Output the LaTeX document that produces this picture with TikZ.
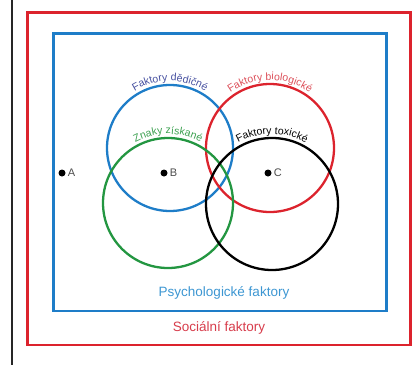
\documentclass[tikz,border=0pt]{standalone}
\usepackage{fontspec}
\setmainfont{Liberation Sans}
\usetikzlibrary{decorations.text}
\definecolor{cblue}{RGB}{30,125,200}
\definecolor{cred}{RGB}{220,35,45}
\definecolor{cgreen}{RGB}{35,150,65}
\definecolor{tblue}{RGB}{60,150,210}
\definecolor{tred}{RGB}{215,60,75}
\definecolor{lblue}{RGB}{70,80,160}
\definecolor{lred}{RGB}{220,80,90}
\definecolor{lgreen}{RGB}{60,160,80}
\tikzset{
  venn/.style={circle, draw, line width=2.3pt, inner sep=0pt, outer sep=0pt},
  frame/.style={line width=2.6pt},
  dotnode/.style={circle, fill=black, inner sep=0pt, minimum size=7pt},
  dotlabel/.style={anchor=west, text=black!70, font=\fontsize{11}{13}\selectfont, inner sep=2pt},
  bigtext/.style={font=\fontsize{13.5}{16}\selectfont},
}
\begin{document}
\begin{tikzpicture}[x=1pt,y=1pt]
\useasboundingbox (0,0) rectangle (414,365);
% left black bar
\coordinate (barT) at (12,365);
\coordinate (barB) at (12,0);
\draw[line width=2pt, black!85] (barT) -- (barB);
% frames
\coordinate (redSW) at (27.5,20);
\coordinate (redNE) at (410.5,352.5);
\draw[frame, cred] (redSW) rectangle (redNE);
\coordinate (blueSW) at (53.5,54);
\coordinate (blueNE) at (386.5,331.5);
\draw[frame, cblue] (blueSW) rectangle (blueNE);
% circles
\node[venn, draw=cblue, minimum size=126pt] (bc) at (170,217) {};
\node[venn, draw=cred, minimum size=128pt] (rc) at (270,217) {};
\node[venn, draw=cgreen, minimum size=130pt] (gc) at (168,162) {};
\node[venn, draw=black, minimum size=132pt] (kc) at (272,161) {};
% curved labels
\path[decorate, decoration={text along path, text align=center,
  text={|\color{lblue}\fontsize{10.5}{12}\selectfont|Faktory dědičné}}]
  ([shift={(150:67pt)}]bc.center) arc[start angle=150, end angle=30, radius=67pt];
\path[decorate, decoration={text along path, text align=center,
  text={|\color{lred}\fontsize{10.5}{12}\selectfont|Faktory biologické}}]
  ([shift={(150:68pt)}]rc.center) arc[start angle=150, end angle=30, radius=68pt];
\path[decorate, decoration={text along path, text align=center,
  text={|\color{lgreen}\fontsize{10.5}{12}\selectfont|Znaky získané}}]
  ([shift={(150:69pt)}]gc.center) arc[start angle=150, end angle=30, radius=69pt];
\path[decorate, decoration={text along path, text align=center,
  text={|\color{black}\fontsize{10.5}{12}\selectfont|Faktory toxické}}]
  ([shift={(150:70pt)}]kc.center) arc[start angle=150, end angle=30, radius=70pt];
% dots
\node[dotnode] (A) at (62,192) {};
\node[dotlabel] (Al) at (A.east) {A};
\node[dotnode] (B) at (164,192) {};
\node[dotlabel] (Bl) at (B.east) {B};
\node[dotnode] (C) at (268,192) {};
\node[dotlabel] (Cl) at (C.east) {C};
% bottom texts
\node[bigtext, text=tblue] (psy) at (224,72) {Psychologické faktory};
\node[bigtext, text=tred] (soc) at (219,37) {Sociální faktory};
\end{tikzpicture}
\end{document}
